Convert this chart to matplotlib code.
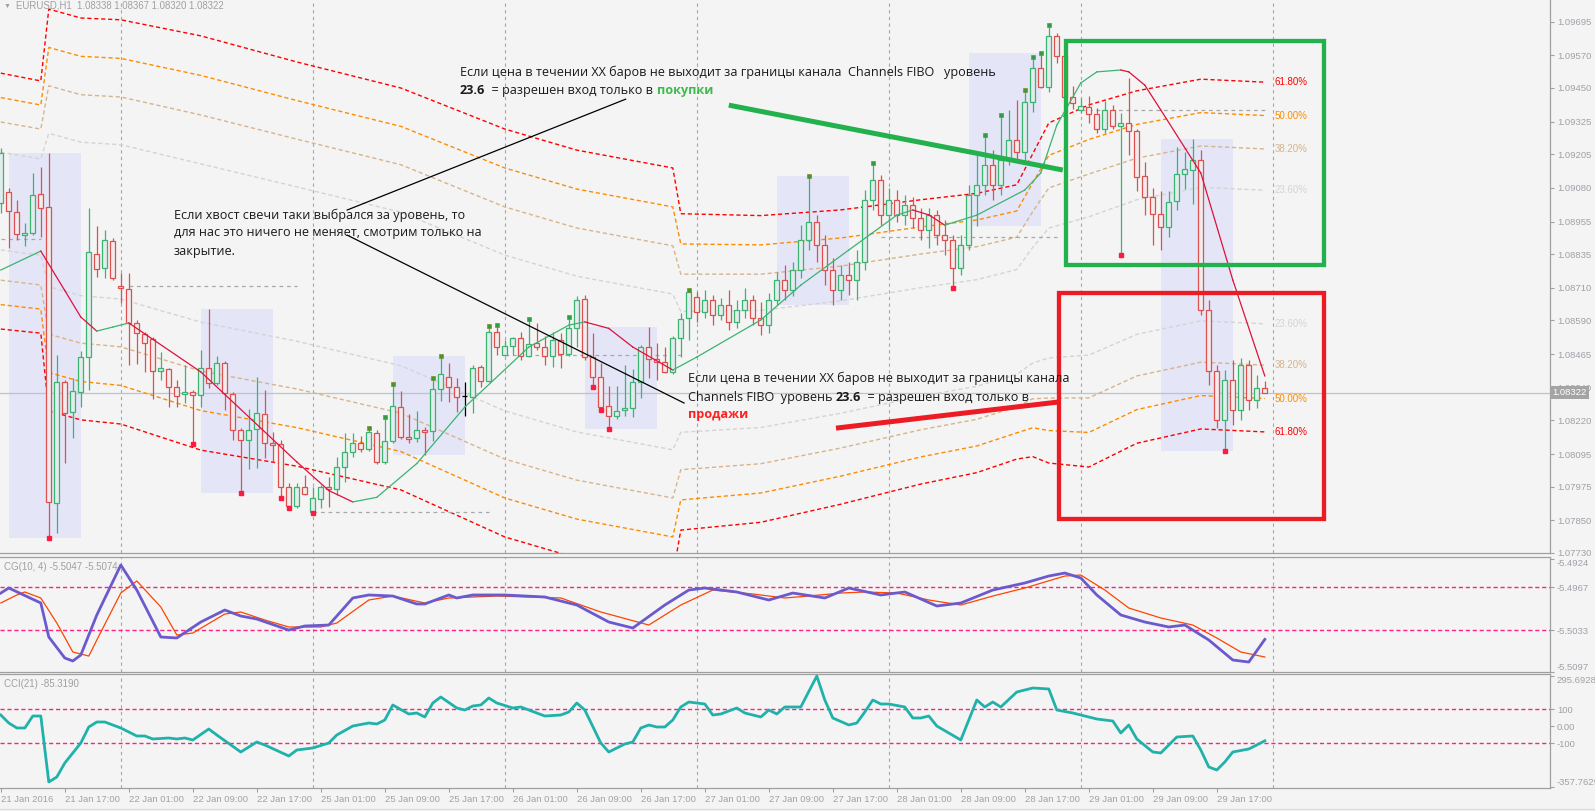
import numpy as np
import matplotlib
matplotlib.use('Agg')
import matplotlib.pyplot as plt
import matplotlib.transforms as mtransforms
from matplotlib.patches import Rectangle

plt.rcParams['font.family'] = ['Liberation Sans', 'DejaVu Sans']

# EURUSD H1, bar 0 = 21 Jan 2016 09:00
opens = [1.09024, 1.09065, 1.08991, 1.08906, 1.08913, 1.09057, 1.09009, 1.07914, 1.08362, 1.08251,
         1.08325, 1.08454, 1.08835, 1.08783, 1.08883, 1.08717, 1.08706, 1.08580, 1.08539, 1.08521,
         1.08402, 1.08410, 1.08343, 1.08317, 1.08325, 1.08313, 1.08413, 1.08358, 1.08432, 1.08317,
         1.08184, 1.08147, 1.08188, 1.08243, 1.08136, 1.08132, 1.07973, 1.07903, 1.07973, 1.07881,
         1.07929, 1.07973, 1.07966, 1.08047, 1.08103, 1.08136, 1.08114, 1.08173, 1.08066, 1.08143,
         1.08269, 1.08158, 1.08154, 1.08184, 1.08180, 1.08336, 1.08380, 1.08343, 1.08310, 1.08306,
         1.08417, 1.08365, 1.08547, 1.08461, 1.08495, 1.08524, 1.08458, 1.08506, 1.08491, 1.08458,
         1.08517, 1.08465, 1.08561, 1.08669, 1.08454, 1.08380, 1.08273, 1.08236, 1.08258, 1.08265,
         1.08362, 1.08491, 1.08447, 1.08436, 1.08399, 1.08524, 1.08598, 1.08676, 1.08621, 1.08665,
         1.08609, 1.08646, 1.08584, 1.08628, 1.08665, 1.08598, 1.08572, 1.08665, 1.08739, 1.08702,
         1.08776, 1.08887, 1.08954, 1.08868, 1.08776, 1.08702, 1.08757, 1.08739, 1.08806, 1.09035,
         1.09109, 1.08979, 1.09035, 1.08979, 1.09016, 1.08968, 1.08924, 1.08979, 1.08906, 1.08887,
         1.08783, 1.08868, 1.09053, 1.09090, 1.09164, 1.09090, 1.09183, 1.09257, 1.09213, 1.09398,
         1.09523, 1.09453, 1.09642, 1.09568, 1.09416, 1.09368, 1.09379, 1.09353, 1.09298, 1.09368,
         1.09309, 1.09320, 1.09290, 1.09124, 1.09046, 1.08983, 1.08935, 1.09031, 1.09131, 1.09146,
         1.09183, 1.08628, 1.08402, 1.08221, 1.08369, 1.08258, 1.08424, 1.08295, 1.08338]
highs = [1.09227, 1.09079, 1.09035, 1.08950, 1.09135, 1.09157, 1.09209, 1.08461, 1.08369, 1.08376,
         1.08476, 1.09005, 1.08939, 1.08924, 1.08894, 1.08765, 1.08765, 1.08591, 1.08547, 1.08528,
         1.08473, 1.08413, 1.08369, 1.08424, 1.08332, 1.08480, 1.08632, 1.08458, 1.08439, 1.08325,
         1.08191, 1.08262, 1.08380, 1.08332, 1.08177, 1.08147, 1.07988, 1.07988, 1.08017, 1.07973,
         1.07980, 1.08010, 1.08084, 1.08173, 1.08173, 1.08162, 1.08191, 1.08184, 1.08232, 1.08354,
         1.08328, 1.08243, 1.08254, 1.08195, 1.08376, 1.08458, 1.08432, 1.08376, 1.08362, 1.08424,
         1.08424, 1.08569, 1.08572, 1.08517, 1.08528, 1.08547, 1.08595, 1.08580, 1.08532, 1.08547,
         1.08543, 1.08602, 1.08680, 1.08683, 1.08543, 1.08432, 1.08347, 1.08347, 1.08424, 1.08410,
         1.08498, 1.08565, 1.08506, 1.08491, 1.08532, 1.08617, 1.08702, 1.08695, 1.08702, 1.08683,
         1.08672, 1.08702, 1.08665, 1.08709, 1.08683, 1.08658, 1.08691, 1.08769, 1.08794, 1.08806,
         1.08942, 1.09124, 1.08979, 1.08906, 1.08820, 1.08794, 1.08806, 1.08850, 1.09072, 1.09172,
         1.09127, 1.09079, 1.09072, 1.09053, 1.09046, 1.09005, 1.09005, 1.08998, 1.08961, 1.08906,
         1.08906, 1.09090, 1.09201, 1.09275, 1.09220, 1.09349, 1.09368, 1.09405, 1.09442, 1.09564,
         1.09579, 1.09682, 1.09653, 1.09583, 1.09457, 1.09412, 1.09420, 1.09375, 1.09401, 1.09386,
         1.09357, 1.09486, 1.09298, 1.09176, 1.09079, 1.09068, 1.09068, 1.09231, 1.09213, 1.09261,
         1.09220, 1.08665, 1.08424, 1.08406, 1.08443, 1.08450, 1.08443, 1.08388, 1.08367]
lows = [1.08987, 1.08857, 1.08887, 1.08865, 1.08906, 1.08898, 1.07784, 1.07803, 1.08062, 1.08154,
        1.08269, 1.08332, 1.08750, 1.08746, 1.08739, 1.08654, 1.08424, 1.08428, 1.08399, 1.08299,
        1.08369, 1.08269, 1.08269, 1.08284, 1.08132, 1.08269, 1.08339, 1.08350, 1.08258, 1.08147,
        1.07951, 1.08040, 1.08043, 1.08080, 1.08066, 1.07932, 1.07895, 1.07895, 1.07943, 1.07877,
        1.07895, 1.07899, 1.07943, 1.07992, 1.08084, 1.08103, 1.08106, 1.08058, 1.08058, 1.08136,
        1.08151, 1.08136, 1.08140, 1.08091, 1.08143, 1.08291, 1.08288, 1.08251, 1.08236, 1.08247,
        1.08343, 1.08362, 1.08461, 1.08458, 1.08461, 1.08443, 1.08454, 1.08480, 1.08424, 1.08417,
        1.08413, 1.08458, 1.08491, 1.08443, 1.08343, 1.08258, 1.08188, 1.08225, 1.08236, 1.08232,
        1.08302, 1.08376, 1.08369, 1.08395, 1.08391, 1.08454, 1.08517, 1.08584, 1.08598, 1.08572,
        1.08591, 1.08554, 1.08561, 1.08598, 1.08572, 1.08535, 1.08543, 1.08646, 1.08665, 1.08680,
        1.08746, 1.08850, 1.08806, 1.08720, 1.08646, 1.08665, 1.08683, 1.08665, 1.08776, 1.08998,
        1.08942, 1.08924, 1.08954, 1.08942, 1.08931, 1.08887, 1.08857, 1.08868, 1.08831, 1.08709,
        1.08757, 1.08850, 1.08939, 1.09053, 1.09035, 1.09053, 1.09164, 1.09183, 1.09172, 1.09361,
        1.09449, 1.09435, 1.09542, 1.09405, 1.09372, 1.09357, 1.09320, 1.09283, 1.09283, 1.09298,
        1.08831, 1.09201, 1.09068, 1.08979, 1.08868, 1.08850, 1.08898, 1.08998, 1.09076, 1.09020,
        1.08609, 1.08350, 1.08191, 1.08106, 1.08202, 1.08221, 1.08258, 1.08265, 1.08320]
closes = [1.09209, 1.08994, 1.08909, 1.08913, 1.09053, 1.09005, 1.07918, 1.08362, 1.08247, 1.08328,
          1.08454, 1.08843, 1.08780, 1.08887, 1.08746, 1.08709, 1.08580, 1.08543, 1.08506, 1.08402,
          1.08413, 1.08343, 1.08310, 1.08325, 1.08313, 1.08413, 1.08358, 1.08432, 1.08321, 1.08184,
          1.08147, 1.08184, 1.08247, 1.08136, 1.08128, 1.07973, 1.07903, 1.07973, 1.07947, 1.07932,
          1.07973, 1.07966, 1.08047, 1.08103, 1.08136, 1.08114, 1.08177, 1.08066, 1.08143, 1.08273,
          1.08158, 1.08151, 1.08184, 1.08177, 1.08336, 1.08391, 1.08343, 1.08306, 1.08310, 1.08413,
          1.08365, 1.08547, 1.08491, 1.08495, 1.08524, 1.08458, 1.08502, 1.08491, 1.08458, 1.08517,
          1.08465, 1.08561, 1.08665, 1.08454, 1.08380, 1.08269, 1.08236, 1.08254, 1.08265, 1.08362,
          1.08491, 1.08447, 1.08436, 1.08399, 1.08524, 1.08595, 1.08695, 1.08621, 1.08665, 1.08609,
          1.08646, 1.08584, 1.08628, 1.08665, 1.08598, 1.08572, 1.08665, 1.08739, 1.08702, 1.08776,
          1.08887, 1.08954, 1.08868, 1.08776, 1.08702, 1.08757, 1.08739, 1.08806, 1.09035, 1.09109,
          1.08979, 1.09035, 1.08979, 1.09016, 1.08968, 1.08924, 1.08979, 1.08906, 1.08887, 1.08783,
          1.08868, 1.09053, 1.09090, 1.09164, 1.09090, 1.09183, 1.09257, 1.09213, 1.09398, 1.09523,
          1.09453, 1.09642, 1.09568, 1.09416, 1.09394, 1.09383, 1.09353, 1.09298, 1.09368, 1.09309,
          1.09320, 1.09290, 1.09120, 1.09046, 1.08983, 1.08935, 1.09028, 1.09131, 1.09150, 1.09183,
          1.08628, 1.08402, 1.08221, 1.08369, 1.08258, 1.08424, 1.08295, 1.08338, 1.08322]

date_labels = ['21 Jan 2016', '21 Jan 17:00', '22 Jan 01:00', '22 Jan 09:00', '22 Jan 17:00',
               '25 Jan 01:00', '25 Jan 09:00', '25 Jan 17:00', '26 Jan 01:00', '26 Jan 09:00',
               '26 Jan 17:00', '27 Jan 01:00', '27 Jan 09:00', '27 Jan 17:00', '28 Jan 01:00',
               '28 Jan 09:00', '28 Jan 17:00', '29 Jan 01:00', '29 Jan 09:00', '29 Jan 17:00']

price_ticks = [1.09695, 1.09570, 1.09450, 1.09325, 1.09205, 1.09080, 1.08955, 1.08835, 1.08710,
               1.08590, 1.08465, 1.08340, 1.08220, 1.08095, 1.07975, 1.07850, 1.07730]

# Channels FIBO: middle line and 100% width
fibo_bars = [0, 5, 6, 10, 15, 25, 37, 50, 63, 72, 84, 85, 95, 105, 115, 122, 127, 129, 131, 136, 142, 150, 158]
fibo_mid = [1.09031, 1.09009, 1.08998, 1.08965, 1.08954, 1.08876, 1.08798, 1.08706, 1.08543, 1.08465,
            1.08399, 1.08399, 1.08410, 1.08454, 1.08510, 1.08543, 1.08584, 1.08646, 1.08691, 1.08717,
            1.08787, 1.08835, 1.08824]
fibo_range = [0.00766, 0.00755, 0.01203, 0.01203, 0.01210, 0.01240, 0.01210, 0.01203, 0.01221, 0.01221,
              0.01221, 0.00947, 0.00918, 0.00881, 0.00851, 0.00836, 0.00821, 0.00907, 0.01018, 0.01084,
              0.01055, 0.01047, 0.01047]
fibo_levels = [61.8, 50.0, 38.2, 23.6]

# moving average (green rising / red falling)
ma_bars = [0, 5, 8, 10, 12, 14, 16, 25, 37, 41, 44, 47, 52, 58, 66, 71, 73, 76, 79, 84,
           87, 95, 100, 106, 112, 114, 116, 118, 122, 128, 130, 132, 135, 137, 140, 141, 143, 145,
           150, 154, 158]
ma_vals = [1.08776, 1.08846, 1.08700, 1.08602, 1.08550, 1.08565, 1.08580, 1.08399, 1.08066, 1.07960,
           1.07918, 1.07935, 1.08060, 1.08269, 1.08491, 1.08572, 1.08584, 1.08560, 1.08491, 1.08406,
           1.08454, 1.08591, 1.08720, 1.08850, 1.08979, 1.08998, 1.08980, 1.08942, 1.08979, 1.09072,
           1.09135, 1.09312, 1.09468, 1.09509, 1.09516, 1.09509, 1.09460, 1.09368, 1.09135, 1.08739,
           1.08384]

up_dot_bars = [46, 48, 49, 54, 55, 61, 62, 66, 71, 86, 101, 109, 123, 125, 128, 129, 130, 131]
down_dot_bars = [6, 24, 30, 35, 36, 39, 74, 75, 76, 119, 140, 153]

level_price = [1.08891, 1.08717, 1.07881, 1.08461, 1.08898, 1.09368]
level_start = [0, 16, 39, 63, 110, 135]
level_end = [5, 37, 61, 85, 132, 158]

box_start = [1, 25, 49, 73, 97, 121, 145]

# CG(10, 4)
cg_bars = [0, 1, 5, 6, 8, 9, 10, 12, 15, 17, 20, 22, 25, 28, 30, 32, 36, 38, 41, 44,
           46, 49, 52, 53, 56, 57, 59, 63, 68, 72, 76, 79, 83, 86, 88, 92, 96, 99, 103, 106,
           110, 113, 117, 120, 124, 128, 131, 133, 135, 137, 140, 143, 146, 148, 151, 154, 156, 158]
cg_main = [-5.49758, -5.49681, -5.49911, -5.50433, -5.50755, -5.50801, -5.50709, -5.50095, -5.49328, -5.49712,
           -5.50433, -5.50448, -5.50203, -5.50019, -5.50111, -5.50157, -5.50326, -5.50264, -5.50249, -5.49834,
           -5.49788, -5.49804, -5.49926, -5.49926, -5.49788, -5.49834, -5.49788, -5.49788, -5.49819, -5.49942,
           -5.50203, -5.50295, -5.49942, -5.49712, -5.49681, -5.49742, -5.49865, -5.49758, -5.49834, -5.49681,
           -5.49788, -5.49742, -5.49957, -5.49911, -5.49712, -5.49604, -5.49497, -5.49451, -5.49527, -5.49788,
           -5.50095, -5.50203, -5.50279, -5.50249, -5.50479, -5.50786, -5.50817, -5.50470]
cgs_bars = [0, 2, 3, 5, 7, 9, 11, 12, 15, 17, 20, 22, 24, 28, 30, 33, 36, 40, 42, 46,
            49, 53, 56, 62, 70, 75, 81, 85, 89, 94, 98, 101, 105, 108, 112, 116, 120, 124, 128, 133,
            135, 138, 141, 145, 149, 152, 155, 158]
cg_signal = [-5.49911, -5.49788, -5.49742, -5.49834, -5.50218, -5.50663, -5.50725, -5.50479, -5.49758, -5.49573,
             -5.49972, -5.50402, -5.50372, -5.50080, -5.50049, -5.50172, -5.50279, -5.50279, -5.50218, -5.49865,
             -5.49804, -5.49911, -5.49834, -5.49804, -5.49834, -5.50049, -5.50249, -5.49942, -5.49712, -5.49773,
             -5.49834, -5.49804, -5.49758, -5.49742, -5.49758, -5.49865, -5.49942, -5.49804, -5.49681, -5.49497,
             -5.49482, -5.49712, -5.49988, -5.50141, -5.50249, -5.50448, -5.50663, -5.50740]

# CCI(21)
cci_bars = [0, 1, 2, 3, 4, 5, 6, 7, 8, 10,
            11, 12, 13, 15, 17, 18, 19, 21, 22, 23,
            24, 26, 27, 30, 32, 33, 36, 37, 39, 41,
            42, 44, 46, 47, 48, 49, 51, 52, 53, 54,
            55, 57, 58, 59, 60, 61, 62, 64, 65, 66,
            68, 70, 71, 72, 73, 75, 76, 78, 79, 80,
            81, 82, 83, 84, 85, 86, 87, 88, 89, 90,
            92, 93, 95, 96, 97, 98, 100, 102, 103, 104,
            106, 107, 108, 109, 110, 111, 113, 114, 115, 116,
            117, 120, 122, 123, 124, 125, 127, 129, 131, 132,
            134, 135, 137, 139, 140, 141, 142, 144, 145, 146,
            147, 149, 150, 151, 152, 153, 154, 156, 157, 158]
cci_vals = [66.5, 19.5, -9.9, -9.9, 60.6, 60.6, -327.4, -298.1, -215.8, -98.2,
            -4.0, 25.4, 25.4, -9.9, -57.0, -57.0, -74.6, -68.7, -74.6, -68.7,
            -80.5, -15.8, -51.1, -151.1, -92.3, -109.9, -174.6, -139.3, -127.6, -98.2,
            -51.1, 1.8, 19.5, 13.6, 37.1, 125.4, 72.4, 78.3, 54.8, 137.1,
            172.4, 107.7, 95.9, 119.5, 125.4, 166.5, 137.1, 107.7, 113.6, 95.9,
            60.6, 66.5, 84.2, 137.1, 95.9, -98.2, -151.1, -104.0, -92.3, -9.9,
            7.7, -4.0, -4.0, 37.1, 113.6, 143.0, 137.1, 131.2, 66.5, 72.4,
            107.7, 78.3, 54.8, 95.9, 72.4, 113.6, 113.6, 295.7, 154.8, 48.9,
            7.7, 19.5, 84.2, 154.8, 131.2, 131.2, 113.6, 48.9, 48.9, 60.6,
            1.8, -80.5, 154.8, 113.6, 143.0, 113.6, 201.8, 225.4, 219.5, 95.9,
            78.3, 66.5, 43.0, 31.2, -39.3, 7.7, -74.6, -151.1, -157.0, -109.9,
            -62.9, -57.0, -139.3, -239.3, -257.0, -209.9, -151.1, -133.5, -109.9, -85.319]

BG = '#f4f4f4'
AXC = '#a0a0a0'
TXT = '#a0a0a8'
GREEN = '#3cb371'
RED = '#dc5050'
RU = 'Open Sans'
RU_SIZE = 9.1

W, H = 1595, 811
fig = plt.figure(figsize=(W / 100, H / 100), dpi=100, facecolor=BG)


def panel(top, bottom):
    a = fig.add_axes([0, 1 - bottom / H, 1550 / W, (bottom - top) / H], facecolor=BG)
    a.set_xlim(-0.1, 193.65)
    a.spines['left'].set_visible(False)
    for s in ('top', 'bottom', 'right'):
        a.spines[s].set_color(AXC)
        a.spines[s].set_linewidth(0.9)
    a.yaxis.tick_right()
    a.tick_params(axis='y', direction='out', length=3, width=0.8, colors=AXC,
                  labelcolor=TXT, labelsize=6.8, pad=2)
    a.tick_params(axis='x', bottom=False, labelbottom=False)
    # grid only where there are bars
    for b in range(15, 160, 24):
        a.axvline(b, color='#a8a8a8', lw=0.8, dashes=(3, 3), zorder=1)
    return a


ax = panel(0, 553)
ax.spines['top'].set_visible(False)
ax_cg = panel(557, 672)
ax_cci = panel(674, 788)

o, hi, lo, c = map(np.array, (opens, highs, lows, closes))
x = np.arange(len(o))
ax.set_ylim(1.07729, 1.09775)

# 9-bar boxes
for s in box_start:
    top = hi[s + 1:s + 10].max()
    bot = lo[s + 1:s + 10].min()
    ax.add_patch(Rectangle((s, bot), 9, top - bot, fc='#e4e5f7', ec='none', zorder=0.5))

# fibo channel
fb = np.array(fibo_bars)
fm = np.array(fibo_mid)
fr = np.array(fibo_range)
styles = {61.8: ('#ff0000', (3, 2)), 50.0: ('#ff8c00', (3, 2)),
          38.2: ('#d6b48c', (3, 2)), 23.6: ('#d4d4d4', (3, 2))}
for lev in fibo_levels:
    col, dash = styles[lev]
    for sgn in (1, -1):
        yy = fm + sgn * lev / 100 * fr
        ax.plot(fb, yy, color=col, lw=1, dashes=dash, zorder=2)
        ax.text(159.2, yy[-1], '%.2f%%' % lev, color=col, fontsize=7, va='center', ha='left', zorder=6)

# level segments and current price
ax.hlines(level_price, level_start, level_end, colors='#a8a8a8', linestyles=(0, (3, 3)), lw=0.9, zorder=2)
ax.axhline(c[-1], color='#bcc4d4', lw=0.9, zorder=1)

# moving average
for i in range(len(ma_bars) - 1):
    col = GREEN if ma_vals[i + 1] > ma_vals[i] else '#e0103c'
    ax.plot(ma_bars[i:i + 2], ma_vals[i:i + 2], color=col, lw=0.9, zorder=5)

# candles
cols = np.where(c > o, GREEN, np.where(c < o, RED, 'black'))
ax.vlines(x, lo, hi, colors=cols, lw=0.9, zorder=3)
for i in x:
    b0, b1 = min(o[i], c[i]), max(o[i], c[i])
    if b1 - b0 < 1e-6:
        ax.hlines(o[i], i - 0.3, i + 0.3, colors=cols[i], lw=0.9, zorder=4)
    else:
        fill = '#e2ecec' if c[i] > o[i] else '#f4ecec'
        ax.add_patch(Rectangle((i - 0.3, b0), 0.6, b1 - b0, fc=fill, ec=cols[i], lw=0.9, zorder=4))

ax.plot(up_dot_bars, hi[up_dot_bars], 's', ms=2.6, color='#2e9e3e', mec='#8a8a20', mew=0.5, zorder=6)
ax.plot(down_dot_bars, lo[down_dot_bars], 's', ms=2.6, color='#ff1a40', mec='#ff1a40', zorder=6)

# annotations
ax.plot([43.3, 78.1], [1.08998, 1.09408], color='black', lw=0.9, zorder=7)
ax.plot([43.3, 85.4], [1.08905, 1.08284], color='black', lw=0.9, zorder=7)
ax.plot([91.0, 132.75], [1.09386, 1.09146], color='#22b14c', lw=3.6, solid_capstyle='butt', zorder=7)
ax.plot([104.4, 132.3], [1.08191, 1.08288], color='#ed1c24', lw=3.6, solid_capstyle='butt', zorder=7)
ax.add_patch(Rectangle((133.1, 1.08795), 32.3, 1.09625 - 1.08795, fc='none', ec='#22b14c', lw=3.1, zorder=7))
ax.add_patch(Rectangle((132.3, 1.07855), 33.1, 1.08691 - 1.07855, fc='none', ec='#ed1c24', lw=3.1, zorder=7))


def rich(xx, yy, parts):
    t = ax.text(xx, yy, parts[0][0], va='center', ha='left', family=RU, fontsize=RU_SIZE, zorder=8,
                **parts[0][1])
    for s, kw in parts[1:]:
        t = ax.annotate(s, xy=(1, 0.5), xycoords=t, va='center', ha='left', family=RU,
                        fontsize=RU_SIZE, zorder=8, **kw)


dark = {'color': '#1a1a1a'}
bold = {'color': '#1a1a1a', 'fontweight': 'bold'}
rich(57.4, 1.09506, [('Если цена в течении XX баров не выходит за границы канала  Channels FIBO   уровень', dark)])
rich(57.4, 1.09442, [('23.6', bold), ('  = разрешен вход только в ', dark),
                     ('покупки', {'color': '#3dbb4a', 'fontweight': 'bold'})])
rich(21.6, 1.08980, [('Если хвост свечи таки выбрался за уровень, то', dark)])
rich(21.6, 1.08913, [('для нас это ничего не меняет, смотрим только на', dark)])
rich(21.6, 1.08846, [('закрытие.', dark)])
rich(85.9, 1.08376, [('Если цена в течении XX баров не выходит за границы канала', dark)])
rich(85.9, 1.08306, [('Channels FIBO  уровень ', dark), ('23.6', bold), ('  = разрешен вход только в', dark)])
rich(85.9, 1.08240, [('продажи', {'color': '#ff2020', 'fontweight': 'bold'})])

# price axis
ax.set_yticks(price_ticks)
ax.set_yticklabels(['%.5f' % v for v in price_ticks])
tr = mtransforms.blended_transform_factory(ax.transAxes, ax.transData)
ax.text(1.0015, c[-1], '%.5f' % c[-1], transform=tr, color='white', fontsize=6.8, va='center', ha='left',
        bbox=dict(fc='#a4a4a4', ec='none', pad=1.6), zorder=10, clip_on=False)
ax.annotate('\u25bc', xy=(0, 1), xycoords='axes fraction', xytext=(4, -6), textcoords='offset pixels',
            fontsize=5, color=AXC, va='center', ha='left')
ax.annotate('EURUSD,H1  %.5f %.5f %.5f %.5f' % (o[-1], hi[-1], lo[-1], c[-1]), xy=(0, 1),
            xycoords='axes fraction', xytext=(16, -6), textcoords='offset pixels',
            fontsize=6.9, color=AXC, va='center', ha='left')

# CG panel
ax_cg.set_ylim(-5.5097, -5.49205)
for lvl in (-5.4967, -5.5033):
    ax_cg.axhline(lvl, color='#ff2080', lw=1, dashes=(3, 2), zorder=1)
ax_cg.plot(cgs_bars, cg_signal, color='#ff4500', lw=0.9, zorder=3)
ax_cg.plot(cg_bars, cg_main, color='#6a5acd', lw=2, zorder=4)
cg_ticks = [-5.4924, -5.4967, -5.5033, -5.5097]
ax_cg.set_yticks(cg_ticks)
ax_cg.set_yticklabels(['%.4f' % v for v in cg_ticks])
lbl = ax_cg.get_yticklabels()
lbl[0].set_va('top')
lbl[-1].set_va('bottom')
ax_cg.annotate('CG(10, 4) %.4f %.4f' % (cg_main[-1], cg_signal[-1]), xy=(0, 1), xycoords='axes fraction',
               xytext=(4, -10), textcoords='offset pixels', fontsize=7, color=AXC, va='center', ha='left')

# CCI panel
ax_cci.set_ylim(-362.9, 307.7)
for lvl in (100, -100):
    ax_cci.axhline(lvl, color='#ff2080', lw=1, dashes=(3, 2), zorder=1)
ax_cci.plot(cci_bars, cci_vals, color='#20b2aa', lw=2, zorder=3)
cci_ticks = [295.6928, 100, 0, -100, -357.7629]
ax_cci.set_yticks(cci_ticks)
ax_cci.set_yticklabels(['295.6928', '100', '0.00', '-100', '-357.7629'])
lbl = ax_cci.get_yticklabels()
lbl[0].set_va('top')
lbl[-1].set_va('bottom')
ax_cci.annotate('CCI(21) %.4f' % cci_vals[-1], xy=(0, 1), xycoords='axes fraction',
                xytext=(4, -10), textcoords='offset pixels', fontsize=7, color=AXC, va='center', ha='left')

ax_cci.set_xticks(np.arange(0, 8 * len(date_labels), 8))
ax_cci.set_xticklabels(date_labels)
ax_cci.tick_params(axis='x', bottom=True, labelbottom=True, direction='out', length=3, width=0.8,
                   colors=AXC, labelcolor=TXT, labelsize=6.8, pad=2)
for t in ax_cci.get_xticklabels():
    t.set_ha('left')

fig.add_artist(plt.Line2D([0, 1], [1 - 809 / H, 1 - 809 / H], color='#dcdcdc', lw=1))

fig.savefig('out.png', dpi=100, facecolor=BG)
